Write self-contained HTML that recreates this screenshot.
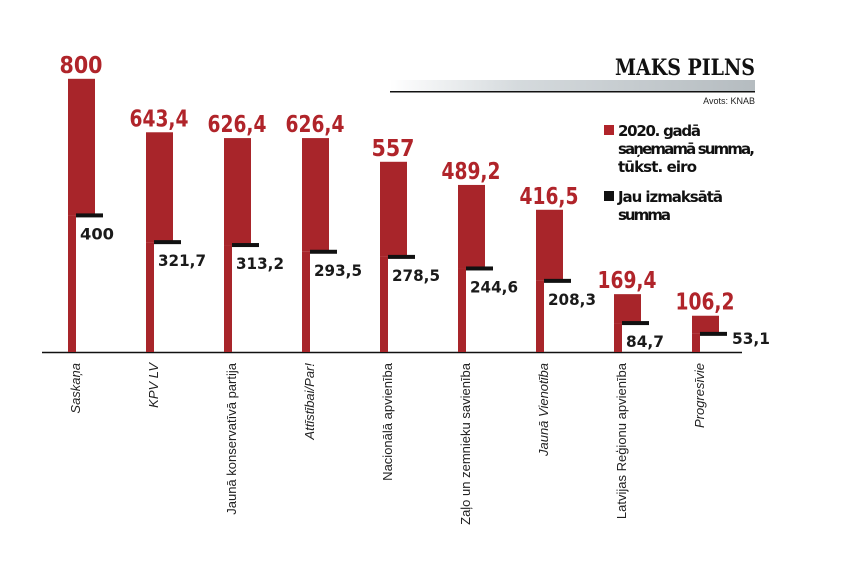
<!DOCTYPE html>
<html><head><meta charset="utf-8"><style>
body{margin:0;background:#fff;}
svg{display:block;font-family:"Liberation Sans","DejaVu Sans",sans-serif;}
.r{fill:#b0242a;font-weight:bold;font-size:23px;text-anchor:middle;font-family:"DejaVu Sans",sans-serif}
.k{fill:#1a1a1a;font-weight:bold;font-size:16px;font-family:"DejaVu Sans",sans-serif}
.l{fill:#222;font-size:13px;text-anchor:end}
</style></head><body>
<svg width="860" height="585" viewBox="0 0 860 585">
<defs><linearGradient id="g" x1="0" x2="1"><stop offset="0" stop-color="#fff"/><stop offset="0.35" stop-color="#d5dadd"/><stop offset="1" stop-color="#b5bcc0"/></linearGradient></defs>
<text x="755" y="75" text-anchor="end" style="font-family:'DejaVu Serif','Liberation Serif',serif;font-weight:bold;font-size:22px" fill="#111" textLength="140" lengthAdjust="spacingAndGlyphs">MAKS PILNS</text>
<rect x="390" y="80" width="365" height="12" fill="url(#g)"/>
<rect x="390" y="91" width="365" height="1.5" fill="#111"/>
<text x="755" y="104" text-anchor="end" font-size="9" fill="#222">Avots: KNAB</text>
<rect x="604" y="125" width="10" height="10" fill="#b0242a"/>
<text font-weight="bold" font-size="15" fill="#111" style="font-family:'DejaVu Sans',sans-serif" lengthAdjust="spacingAndGlyphs"><tspan x="618" y="136" textLength="83">2020. gadā</tspan><tspan x="618" y="154" textLength="137">saņemamā summa,</tspan><tspan x="618" y="172" textLength="79">tūkst. eiro</tspan></text>
<rect x="604" y="191" width="10" height="10" fill="#111"/>
<text font-weight="bold" font-size="15" fill="#111" style="font-family:'DejaVu Sans',sans-serif"><tspan x="618" y="202" textLength="105">Jau izmaksātā</tspan><tspan x="618" y="220" textLength="53">summa</tspan></text>
<line x1="42" y1="352.5" x2="742" y2="352.5" stroke="#111" stroke-width="1.5"/>
<g id="bars"></g>
</svg>
<script>
const d=[["800","400",800,400,"Saskaņa",1],["643,4","321,7",643.4,321.7,"KPV LV",1],["626,4","313,2",626.4,313.2,"Jaunā konservatīvā partija",0],["626,4","293,5",626.4,293.5,"Attīstībai/Par!",1],["557","278,5",557,278.5,"Nacionālā apvienība",0],["489,2","244,6",489.2,244.6,"Zaļo un zemnieku savienība",0],["416,5","208,3",416.5,208.3,"Jaunā Vienotība",1],["169,4","84,7",169.4,84.7,"Latvijas Reģionu apvienība",0],["106,2","53,1",106.2,53.1,"Progresīvie",1]];
let s="";const B=352,k=0.3415;
d.forEach((e,i)=>{const x=68+i*78,t=B-e[2]*k,p=B-e[3]*k;
s+=`<rect x="${x}" y="${t}" width="27" height="${p-t}" fill="#a8252a"/><rect x="${x}" y="${p}" width="8" height="${B-p}" fill="#a8252a"/><rect x="${x+8}" y="${p-2}" width="27" height="4" fill="#111"/>`;
const w=e[0].length==3?43:59;
s+=`<text class="r" x="${x+13}" y="${t-6}" textLength="${w}" lengthAdjust="spacingAndGlyphs">${e[0]}</text>`;
const bw=e[1].length==3?34:(e[1].length==4?38:48);
if(i==8) s+=`<text class="k" x="${x+40}" y="${p+10}" textLength="${bw}" lengthAdjust="spacingAndGlyphs">${e[1]}</text>`;
else s+=`<text class="k" x="${x+12}" y="${p+24}" textLength="${bw}" lengthAdjust="spacingAndGlyphs">${e[1]}</text>`;
s+=`<text class="l" transform="translate(${x+12},363) rotate(-90)"${e[5]?' font-style="italic"':''}>${e[4]}</text>`;});
document.getElementById("bars").innerHTML=s;
</script>
</body></html>
